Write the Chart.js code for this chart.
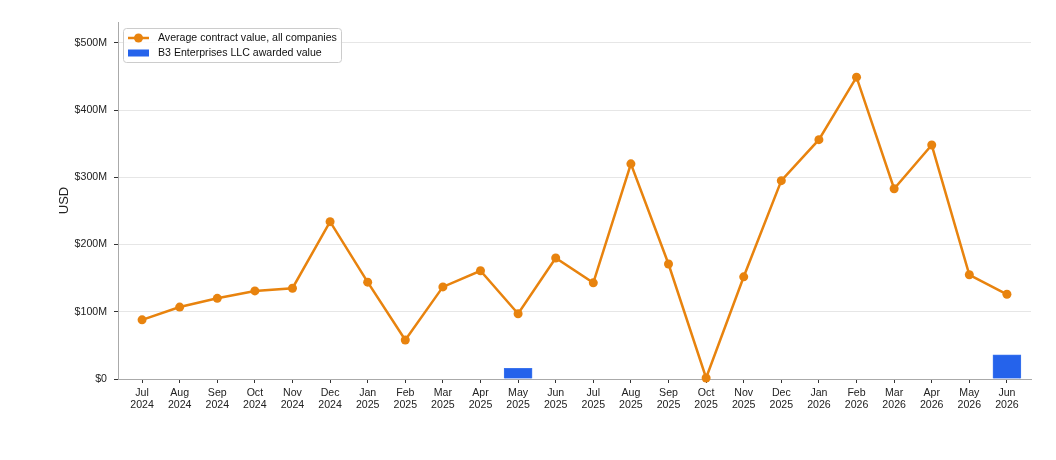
<!DOCTYPE html>
<html>
<head>
<meta charset="utf-8">
<script src="https://cdn.jsdelivr.net/npm/chart.js@4/dist/chart.umd.min.js"></script>
<style>
  html, body { margin: 0; padding: 0; background: #fff; }
  #wrap { width: 1056px; height: 460px; position: relative; }
</style>
</head>
<body>
<div id="wrap"><canvas id="chart"></canvas></div>
<script>
const months = ['Jul', 'Aug', 'Sep', 'Oct', 'Nov', 'Dec', 'Jan', 'Feb', 'Mar', 'Apr', 'May', 'Jun',
    'Jul', 'Aug', 'Sep', 'Oct', 'Nov', 'Dec', 'Jan', 'Feb', 'Mar', 'Apr', 'May', 'Jun']
const years = ['2024', '2024', '2024', '2024', '2024', '2024', '2025', '2025', '2025', '2025', '2025', '2025',
    '2025', '2025', '2025', '2025', '2025', '2025', '2026', '2026', '2026', '2026', '2026', '2026']
// millions of USD
const avgValue = [88, 107, 120, 131, 135, 234, 144, 58, 137, 161, 97, 180,
    143, 320, 171, 1.5, 152, 295, 356, 449, 283, 348, 155, 126]
const b3Value = [null, null, null, null, null, null, null, null, null, null, 16, null,
    null, null, null, null, null, null, null, null, null, null, null, 36]
const yTicks = [0, 100, 200, 300, 400, 500]

const font = '"Liberation Sans", Arial, sans-serif'
const orange = '#e8830e'
const blue = '#2563eb'

// legend drawn inside the plot area, upper left
const insideLegend = {
    id: 'insideLegend',
    afterDraw(chart) {
        const ctx = chart.ctx
        const area = chart.chartArea
        const x = area.left + 5, y = area.top + 6
        const w = 218, h = 34
        ctx.save()
        ctx.fillStyle = 'rgba(255,255,255,0.85)'
        ctx.strokeStyle = '#cccccc'
        ctx.lineWidth = 1
        ctx.beginPath()
        ctx.roundRect(x + 0.5, y + 0.5, w, h, 3)
        ctx.fill()
        ctx.stroke()

        const ds = chart.data.datasets
        // line entry
        let cy = y + 10
        ctx.strokeStyle = orange
        ctx.lineWidth = 2.5
        ctx.beginPath()
        ctx.moveTo(x + 5, cy)
        ctx.lineTo(x + 26, cy)
        ctx.stroke()
        ctx.fillStyle = orange
        ctx.beginPath()
        ctx.arc(x + 15.5, cy, 4.5, 0, Math.PI * 2)
        ctx.fill()
        ctx.fillStyle = '#111'
        ctx.font = '10.6px ' + font
        ctx.textBaseline = 'middle'
        ctx.fillText(ds[0].label, x + 35, cy)
        // bar entry
        cy = y + 25
        ctx.fillStyle = blue
        ctx.fillRect(x + 5, cy - 3.5, 21, 7)
        ctx.fillStyle = '#111'
        ctx.fillText(ds[1].label, x + 35, cy)
        ctx.restore()
    }
}

const ctx = document.getElementById('chart').getContext('2d')
window.myChart = new Chart(ctx, {
    data: {
        datasets: [
            {
                type: 'line',
                label: 'Average contract value, all companies',
                data: avgValue.map((v, i) => ({ x: i, y: v })),
                borderColor: orange,
                backgroundColor: orange,
                borderWidth: 2.5,
                pointRadius: 4.5,
                pointBorderWidth: 0,
                pointBackgroundColor: orange,
                tension: 0,
                clip: false,
                order: 1
            },
            {
                type: 'bar',
                label: 'B3 Enterprises LLC awarded value',
                data: b3Value.map((v, i) => ({ x: i, y: v })),
                backgroundColor: blue,
                borderColor: '#3b74ee',
                borderWidth: 1,
                barThickness: 28,
                order: 2
            }
        ]
    },
    options: {
        responsive: true,
        maintainAspectRatio: false,
        animation: false,
        layout: { padding: { left: 57, right: 25, top: 22, bottom: 0 } },
        plugins: {
            legend: { display: false },
            tooltip: { enabled: false }
        },
        scales: {
            x: {
                type: 'linear',
                offset: false,
                min: -0.64,
                max: 23.64,
                afterBuildTicks: axis => {
                    axis.ticks = months.map((m, i) => ({ value: i }))
                },
                afterFit: axis => { axis.height = 81 },
                ticks: {
                    autoSkip: false,
                    maxRotation: 0,
                    padding: 5,
                    color: '#222',
                    font: { family: font, size: 10.6, lineHeight: 1.05 },
                    callback: v => [months[v], years[v]]
                },
                grid: {
                    offset: false,
                    drawOnChartArea: false,
                    tickColor: '#333',
                    tickLength: 4
                },
                border: { color: '#aaaaaa', width: 1 }
            },
            y: {
                min: 0,
                max: 531,
                afterBuildTicks: axis => {
                    axis.ticks = yTicks.map(v => ({ value: v }))
                },
                afterFit: axis => { axis.width = 61 },
                ticks: {
                    padding: 7,
                    color: '#222',
                    font: { family: font, size: 10.6 },
                    callback: v => v === 0 ? '$0' : '$' + v + 'M'
                },
                grid: {
                    color: '#e6e6e6',
                    tickColor: '#333',
                    tickLength: 4
                },
                border: { color: '#aaaaaa', width: 1 },
                title: {
                    display: true,
                    text: 'USD',
                    color: '#222',
                    font: { family: font, size: 13 },
                    padding: { top: 0, bottom: 0 }
                }
            }
        }
    },
    plugins: [insideLegend]
})
</script>
</body>
</html>
